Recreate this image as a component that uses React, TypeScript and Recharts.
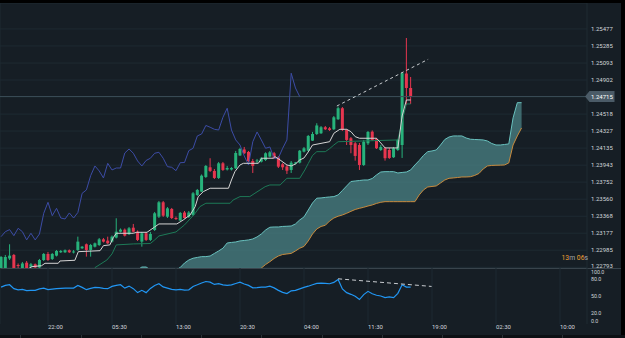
import React from 'react';
import {
  ComposedChart,
  Bar,
  Line,
  Area,
  XAxis,
  YAxis,
  CartesianGrid,
  ReferenceLine,
} from 'recharts';

// ---- palette ----
const BG = '#161e25';
const GRID = '#1e2a32';
const UP = '#27b27b';
const DOWN = '#e6364f';
const TEXT = '#d2d6da';

// ---- 30-minute candles, first bar index is -1 ----
const FIRST = -1;
const OPEN = [
  1.22763, 1.22774, 1.22892, 1.22932, 1.22819, 1.2278, 1.22845, 1.228, 1.22827, 1.22791,
  1.22875, 1.22943, 1.22887, 1.22924, 1.22962, 1.22962, 1.22985, 1.2296, 1.22988, 1.23007,
  1.23052, 1.22988, 1.23025, 1.23044, 1.23108, 1.23093, 1.23082, 1.23127, 1.23194, 1.23217,
  1.23165, 1.23239, 1.23194, 1.23082, 1.23176, 1.23101, 1.23213, 1.23363, 1.23525, 1.23363,
  1.2345, 1.23348, 1.2332, 1.2341, 1.2336, 1.23382, 1.23607, 1.23645, 1.2381, 1.23919,
  1.23878, 1.23799, 1.23964, 1.23894, 1.23894, 1.23908, 1.24052, 1.2412, 1.24092, 1.2399,
  1.23985, 1.23982, 1.24001, 1.24039, 1.24077, 1.2403, 1.23953, 1.23928, 1.23889, 1.23962,
  1.23971, 1.24095, 1.24106, 1.24219, 1.24294, 1.24302, 1.2437, 1.24358, 1.24347, 1.2446,
  1.24584, 1.24339, 1.24246, 1.24189, 1.2417, 1.23945, 1.24189, 1.2432, 1.24235, 1.24114,
  1.24133, 1.24114, 1.24032, 1.24114, 1.2417, 1.24975, 1.24812,
];
const HIGH = [
  1.2292, 1.22932, 1.23052, 1.22943, 1.22836, 1.22853, 1.22864, 1.22842, 1.22836, 1.22887,
  1.22954, 1.22966, 1.22954, 1.22988, 1.22988, 1.22994, 1.22994, 1.22988, 1.23138, 1.23033,
  1.23061, 1.23056, 1.23072, 1.23123, 1.23123, 1.23138, 1.23151, 1.23345, 1.2323, 1.2323,
  1.23247, 1.23281, 1.23208, 1.23191, 1.23191, 1.23191, 1.23416, 1.2354, 1.2354, 1.23472,
  1.23461, 1.23365, 1.23416, 1.23427, 1.23427, 1.23641, 1.23675, 1.23838, 1.23945, 1.24021,
  1.239, 1.23979, 1.23979, 1.23934, 1.23923, 1.24103, 1.24138, 1.24148, 1.24103, 1.24013,
  1.24013, 1.24035, 1.24088, 1.24103, 1.24092, 1.24046, 1.23968, 1.23945, 1.2399, 1.23979,
  1.24114, 1.24148, 1.24283, 1.24317, 1.24415, 1.24384, 1.24384, 1.24373, 1.24497, 1.24602,
  1.24598, 1.2435, 1.2426, 1.24204, 1.24193, 1.24227, 1.24328, 1.24334, 1.24249, 1.2417,
  1.24148, 1.24137, 1.24148, 1.24238, 1.24992, 1.25375, 1.24936,
];
const LOW = [
  1.22752, 1.22763, 1.22875, 1.2274, 1.22785, 1.22768, 1.22774, 1.22785, 1.22774, 1.22774,
  1.22864, 1.22864, 1.22875, 1.22915, 1.22954, 1.22954, 1.22954, 1.22949, 1.22977, 1.22999,
  1.22913, 1.22913, 1.23016, 1.23033, 1.23072, 1.23056, 1.23072, 1.23118, 1.23185, 1.2314,
  1.23157, 1.23185, 1.23089, 1.23025, 1.23089, 1.23089, 1.23202, 1.23348, 1.2336, 1.23348,
  1.23337, 1.23326, 1.23315, 1.23342, 1.23348, 1.23371, 1.23596, 1.23641, 1.23799, 1.23866,
  1.23787, 1.23787, 1.23878, 1.23883, 1.23883, 1.239, 1.24046, 1.24069, 1.23979, 1.23855,
  1.23968, 1.23973, 1.2399, 1.2403, 1.24013, 1.23911, 1.23889, 1.23844, 1.23855, 1.23951,
  1.23962, 1.24086, 1.24097, 1.24215, 1.24283, 1.24294, 1.24339, 1.24328, 1.24339, 1.24452,
  1.24328, 1.2417, 1.24077, 1.23994, 1.23889, 1.23934, 1.2417, 1.24215, 1.24125, 1.24103,
  1.23994, 1.24013, 1.24024, 1.24103, 1.24024, 1.24621, 1.24632,
];
const CLOSE = [
  1.22909, 1.22909, 1.22924, 1.22763, 1.22808, 1.22836, 1.22785, 1.22827, 1.22791, 1.22875,
  1.22943, 1.22875, 1.22943, 1.22977, 1.22977, 1.22985, 1.22962, 1.22971, 1.23082, 1.23025,
  1.22988, 1.23044, 1.23063, 1.23108, 1.23082, 1.23063, 1.23138, 1.23194, 1.23217, 1.23149,
  1.23232, 1.23194, 1.23101, 1.23176, 1.23101, 1.23168, 1.23401, 1.23525, 1.23374, 1.23457,
  1.23348, 1.23337, 1.23405, 1.23348, 1.2341, 1.23626, 1.23664, 1.23825, 1.23934, 1.23878,
  1.23799, 1.23964, 1.23889, 1.23911, 1.23911, 1.2408, 1.24125, 1.24077, 1.2399, 1.23934,
  1.23996, 1.24021, 1.24077, 1.24088, 1.24021, 1.23926, 1.23919, 1.23881, 1.23971, 1.23973,
  1.24106, 1.24133, 1.24272, 1.24294, 1.2439, 1.2437, 1.24347, 1.24339, 1.24482, 1.24584,
  1.24339, 1.24227, 1.2417, 1.24047, 1.23945, 1.24207, 1.24317, 1.24227, 1.24133, 1.24148,
  1.24021, 1.24024, 1.24133, 1.24227, 1.24978, 1.24812, 1.24715,
];

// ---- Ichimoku lines: [bar index, price] vertices ----
const TENKAN: [number, number][] = [
  [5.5, 1.2278], [6.2, 1.228], [8.5, 1.22811], [9.3, 1.22838], [12.4, 1.22838], [12.8, 1.22864],
  [16.3, 1.22872], [17.1, 1.22969], [22.2, 1.2298], [23, 1.23037], [24.5, 1.23045], [25.3, 1.23127],
  [26, 1.23176], [30, 1.23176], [30.8, 1.23187], [33.2, 1.23187], [35, 1.23247], [36, 1.23281],
  [40.2, 1.23281], [41.7, 1.23326], [43.3, 1.23382], [44.5, 1.23476], [45.2, 1.23588], [46.4, 1.23645],
  [48, 1.23683], [52.3, 1.23683], [53, 1.23776], [53.8, 1.2387], [55, 1.23945], [55.8, 1.23964],
  [59.3, 1.23964], [60.1, 1.24021], [62.8, 1.24021], [63.2, 1.24039], [64.4, 1.24001], [66, 1.23945],
  [67, 1.23934], [68, 1.23956], [69, 1.24001], [70, 1.24024], [71, 1.24092], [72, 1.2417],
  [76, 1.24207], [77, 1.24302], [78.4, 1.24347], [80, 1.24347], [81, 1.2432], [82, 1.24264],
  [83, 1.24246], [87, 1.24246], [88, 1.24193], [89, 1.24137], [92, 1.24137], [93, 1.24497],
  [94, 1.24677], [95, 1.24677],
];
const KIJUN: [number, number][] = [
  [20.5, 1.22763], [21, 1.22789], [23.8, 1.22875], [25, 1.22943], [26, 1.23045], [30, 1.23056],
  [34, 1.23061], [35, 1.23101], [36, 1.23146], [40, 1.23191], [42, 1.2327], [43.5, 1.23348],
  [44.5, 1.23401], [45.6, 1.23476], [47, 1.23514], [52.7, 1.23514], [53.4, 1.23551], [55, 1.23589],
  [57.3, 1.23589], [58.5, 1.23627], [59.7, 1.23664], [60.9, 1.23701], [62, 1.2372], [64.4, 1.2372],
  [66, 1.23795], [69, 1.23795], [70.2, 1.23889], [71, 1.23962], [72, 1.24052], [73, 1.24095],
  [75, 1.24095], [76, 1.24129], [77, 1.2417], [78, 1.24207], [92, 1.24227], [93, 1.24441],
  [94, 1.24632], [95, 1.24632],
];
// lagging span, starting at bar index -1
const CHIKOU = [
  1.23138, 1.23194, 1.23217, 1.23149, 1.23232, 1.23194, 1.23101, 1.23176, 1.23101, 1.23168,
  1.23401, 1.23525, 1.23374, 1.23457, 1.23348, 1.23337, 1.23405, 1.23348, 1.2341, 1.23626,
  1.23664, 1.23825, 1.23934, 1.23878, 1.23799, 1.23964, 1.23889, 1.23911, 1.23911, 1.2408,
  1.24125, 1.24077, 1.2399, 1.23934, 1.23996, 1.24021, 1.24077, 1.24088, 1.24021, 1.23926,
  1.23919, 1.23881, 1.23971, 1.23973, 1.24106, 1.24133, 1.24272, 1.24294, 1.2439, 1.2437,
  1.24347, 1.24339, 1.24482, 1.24584, 1.24339, 1.24227, 1.2417, 1.24047, 1.23945, 1.24207,
  1.24317, 1.24227, 1.24133, 1.24148, 1.24021, 1.24024, 1.24133, 1.24227, 1.24978, 1.24812,
  1.24715,
];
// leading spans, starting at bar index 30
const SPAN_FIRST = 30;
const SENKOU_A = [
  1.22707, 1.22763, 1.22796, 1.22796, 1.22763, 1.22718, 1.22707, 1.22707, 1.22707, 1.22729,
  1.22763, 1.22791, 1.22841, 1.22875, 1.22895, 1.22904, 1.22913, 1.22913, 1.2292, 1.22949,
  1.22977, 1.23008, 1.23067, 1.23073, 1.23078, 1.2309, 1.23095, 1.23101, 1.23112, 1.23135,
  1.23168, 1.23213, 1.23244, 1.23247, 1.23247, 1.23253, 1.23255, 1.23258, 1.23281, 1.23326,
  1.2336, 1.23438, 1.23517, 1.23571, 1.23574, 1.2358, 1.23585, 1.23589, 1.23608, 1.23658,
  1.23709, 1.23759, 1.23765, 1.2377, 1.23776, 1.23776, 1.23793, 1.23833, 1.23866, 1.2387,
  1.2387, 1.2387, 1.23855, 1.23861, 1.23866, 1.23889, 1.23945, 1.23995, 1.24052, 1.24095,
  1.24103, 1.24114, 1.2417, 1.24232, 1.2426, 1.24272, 1.24272, 1.24272, 1.24249, 1.24235,
  1.24232, 1.2423, 1.24227, 1.24215, 1.24187, 1.2417, 1.2417, 1.24176, 1.24182, 1.24475,
  1.24647, 1.24647,
];
const SENKOU_B = [
  1.2265, 1.2265, 1.2265, 1.2265, 1.2265, 1.2265, 1.2265, 1.2265, 1.2265, 1.2265,
  1.2265, 1.2265, 1.2265, 1.2265, 1.2265, 1.2265, 1.2265, 1.2265, 1.2265, 1.2265,
  1.2265, 1.2265, 1.2265, 1.2265, 1.2265, 1.2265, 1.2265, 1.2265, 1.2265, 1.2274,
  1.22785, 1.22824, 1.22856, 1.22892, 1.2292, 1.22937, 1.22943, 1.22949, 1.22977, 1.23008,
  1.23028, 1.2309, 1.23168, 1.23224, 1.23253, 1.23266, 1.23314, 1.23348, 1.23368, 1.23382,
  1.23401, 1.23423, 1.23444, 1.23457, 1.23469, 1.23483, 1.23495, 1.23512, 1.23525, 1.23532,
  1.23532, 1.23532, 1.23532, 1.23532, 1.23532, 1.23532, 1.23532, 1.23607, 1.23664, 1.23697,
  1.23703, 1.23709, 1.23742, 1.23776, 1.23795, 1.23799, 1.23804, 1.2381, 1.2381, 1.23813,
  1.23827, 1.23849, 1.239, 1.23934, 1.2394, 1.23942, 1.23943, 1.23945, 1.23968, 1.2417,
  1.24272, 1.24362,
];

// ---- RSI(14), starting at bar index -1 ----
const RSI = [
  65.9, 68.9, 70.1, 63.1, 61.0, 61.8, 59.5, 60.1, 60.1, 62.7,
  64.1, 61.3, 62.2, 63.1, 63.6, 64.1, 64.1, 64.1, 68.9, 65.4,
  61.3, 63.6, 65.4, 64.8, 63.6, 63.1, 67.1, 68.9, 70.1, 64.1,
  67.7, 63.1, 56.0, 60.1, 56.0, 63.6, 68.9, 71.9, 66.2, 64.1,
  61.8, 61.0, 61.8, 60.6, 61.0, 67.1, 70.1, 73.3, 75.9, 74.7,
  70.7, 71.9, 69.8, 68.9, 69.8, 72.4, 74.7, 71.5, 68.9, 64.5,
  64.8, 65.9, 65.9, 67.7, 64.5, 60.1, 56.5, 54.3, 59.2, 60.1,
  62.7, 65.4, 67.5, 70.1, 72.4, 72.9, 72.4, 71.9, 74.2, 79.5,
  62.7, 56.0, 53.0, 49.5, 43.7, 52.5, 58.3, 53.9, 51.3, 50.0,
  47.2, 48.3, 47.2, 54.8, 70.1, 65.9, 65.9,
];

// ---- drawn trend lines: [bar index, value] ----
const TREND_PRICE: [number, number][] = [[77.7, 1.24609], [99.1, 1.25135]];
const TREND_RSI: [number, number][] = [[78, 80.7], [99.9, 67.1]];

// ---- axes ----
const PRICE_TICKS = [
  1.22793, 1.22985, 1.23177, 1.23368, 1.2356, 1.23752, 1.23943, 1.24135, 1.24327, 1.24518,
  1.24715, 1.24902, 1.25093, 1.25285, 1.25477,
];
const LAST_PRICE = 1.24715;
const PRICE_DOMAIN: [number, number] = [1.22785, 1.25769];
const TIME_TICKS = [10, 25, 40, 55, 70, 85, 100, 115, 130];
const TIME_LABELS = ['22:00', '05:30', '13:00', '20:30', '04:00', '11:30', '19:00', '02:30', '10:00'];
const RSI_TICKS = [0, 20, 50, 80, 100];
const X_DOMAIN: [number, number] = [-1.25, 136.33];

// ---- chart tables built from the arrays above ----
const LAST_INDEX = SPAN_FIRST + SENKOU_A.length - 1;
const rows: any[] = [];
for (let i = FIRST; i <= LAST_INDEX; i++) {
  const row: any = { i };
  const k = i - FIRST;
  if (k < OPEN.length) {
    row.o = OPEN[k];
    row.h = HIGH[k];
    row.l = LOW[k];
    row.c = CLOSE[k];
  }
  const s = i - SPAN_FIRST;
  if (s >= 0 && s < SENKOU_A.length) {
    row.a = SENKOU_A[s];
    row.b = SENKOU_B[s];
    row.cloud = [SENKOU_B[s], SENKOU_A[s]];
  }
  rows.push(row);
}
const toPoints = (pairs: [number, number][]) => pairs.map(([i, v]) => ({ i, v }));
const tenkanData = toPoints(TENKAN);
const kijunData = toPoints(KIJUN);
const chikouData = CHIKOU.map((v, k) => ({ i: FIRST + k, v }));
const rsiData = RSI.map((v, k) => ({ i: FIRST + k, v }));
const trendPriceData = toPoints(TREND_PRICE);
const trendRsiData = toPoints(TREND_RSI);

const FONT = 'Roboto, "DejaVu Sans", sans-serif';

function Candle(props: any) {
  const { x, y, width, height, payload } = props;
  if (!payload || payload.h == null || !isFinite(y) || !isFinite(height)) return null;
  const top = Math.min(y, y + height);
  const bottom = Math.max(y, y + height);
  const span = payload.h - payload.l;
  const toPx = (p: number) => (span > 0 ? top + ((payload.h - p) / span) * (bottom - top) : top);
  const up = payload.c >= payload.o;
  const color = up ? UP : DOWN;
  const cx = x + width / 2;
  const yo = toPx(payload.o);
  const yc = toPx(payload.c);
  const bodyTop = Math.min(yo, yc);
  const bodyH = Math.max(1, Math.abs(yo - yc));
  return (
    <g>
      <line x1={cx} x2={cx} y1={top} y2={bottom} stroke={color} strokeWidth={1} />
      <rect x={cx - 1.5} y={bodyTop} width={3} height={bodyH} fill={color} />
    </g>
  );
}

function PriceTick(props: any) {
  const { x, y, payload } = props;
  const v = payload.value;
  const label = Number(v).toFixed(5);
  if (v === LAST_PRICE) {
    return (
      <g>
        <polygon
          points={`${x - 6},${y} ${x - 1.5},${y - 5.5} ${x + 23.5},${y - 5.5} ${x + 23.5},${y + 5.5} ${x - 1.5},${y + 5.5}`}
          fill="#4b5b67"
        />
        <text x={x} y={y} dy="0.35em" fill="#ffffff" fontSize={6} fontFamily={FONT}>
          {label}
        </text>
      </g>
    );
  }
  const lift = v === PRICE_TICKS[0] ? -1 : 0;
  return (
    <text x={x} y={y + lift} dy="0.35em" fill={TEXT} fontSize={6} fontFamily={FONT}>
      {label}
    </text>
  );
}

function RsiTick(props: any) {
  const { x, y, payload } = props;
  const v = payload.value;
  // keep the end labels inside the pane
  const shift = v === 100 ? 4 : v === 0 ? -3.3 : 0;
  return (
    <text x={x} y={y + shift} dy="0.35em" fill={TEXT} fontSize={5.3} fontFamily={FONT}>
      {Number(v).toFixed(1)}
    </text>
  );
}

function TimeTick(props: any) {
  const { x, payload } = props;
  const idx = TIME_TICKS.indexOf(payload.value);
  return (
    <text x={x} y={59} dy="0.35em" fill={TEXT} fontSize={6} fontFamily={FONT} textAnchor="start">
      {TIME_LABELS[idx]}
    </text>
  );
}

const TOOLBAR_STEPS = [20, 81, 141, 201, 261, 322, 382, 442, 502, 562];

export default function App() {
  return (
    <div
      style={{
        position: 'fixed',
        left: 0,
        top: 0,
        width: 625,
        height: 338,
        background: '#000',
        overflow: 'hidden',
      }}
    >
      <div style={{ position: 'absolute', left: 0, top: 3, width: 621, height: 265, background: BG }}>
        <ComposedChart
          width={621}
          height={265}
          data={rows}
          margin={{ top: 0, right: 0, bottom: 0, left: 0 }}
        >
          <CartesianGrid stroke={GRID} strokeWidth={1} />
          <XAxis
            type="number"
            dataKey="i"
            domain={X_DOMAIN}
            ticks={TIME_TICKS}
            allowDataOverflow
            height={0}
            tick={false}
            axisLine={false}
            tickLine={false}
          />
          <YAxis
            orientation="right"
            width={34}
            domain={PRICE_DOMAIN}
            ticks={PRICE_TICKS}
            allowDataOverflow
            axisLine={false}
            tickLine={false}
            tickSize={0}
            tickMargin={4}
            tick={<PriceTick />}
            interval={0}
          />
          <ReferenceLine y={LAST_PRICE} stroke="#3c4f59" strokeWidth={1} />
          <Area
            dataKey="cloud"
            stroke="none"
            fill="#4b8385"
            fillOpacity={0.75}
            isAnimationActive={false}
            connectNulls={false}
          />
          <Line dataKey="a" stroke="#69c2bf" strokeWidth={1} dot={false} isAnimationActive={false} />
          <Line dataKey="b" stroke="#c98a3d" strokeWidth={1} dot={false} isAnimationActive={false} />
          <Bar
            dataKey={(d: any) => (d.h == null ? null : [d.l, d.h])}
            barSize={3}
            shape={<Candle />}
            isAnimationActive={false}
          />
          <Line data={chikouData} dataKey="v" stroke="#3c4ca6" strokeWidth={1} dot={false} isAnimationActive={false} />
          <Line data={kijunData} dataKey="v" stroke="#1d7a57" strokeWidth={1} dot={false} isAnimationActive={false} />
          <Line data={tenkanData} dataKey="v" stroke="#d4d4d4" strokeWidth={1} dot={false} isAnimationActive={false} />
          <Line
            data={trendPriceData}
            dataKey="v"
            stroke="#c8ccd0"
            strokeWidth={1}
            strokeDasharray="3 3"
            dot={false}
            isAnimationActive={false}
          />
        </ComposedChart>
        <svg
          width={621}
          height={265}
          style={{ position: 'absolute', left: 0, top: 0, pointerEvents: 'none' }}
        >
          <text x={588} y={255} dy="0.35em" textAnchor="end" fontSize={6.8} fontFamily={FONT}>
            <tspan fill="#f0a032">13</tspan>
            <tspan fill="#a3abb2">m </tspan>
            <tspan fill="#f0a032">06</tspan>
            <tspan fill="#a3abb2">s</tspan>
          </text>
        </svg>
      </div>

      <div
        style={{
          position: 'absolute',
          left: 0,
          top: 268,
          width: 621,
          height: 67,
          background: BG,
          borderTop: '1px solid #39444c',
          boxSizing: 'border-box',
        }}
      >
        <div style={{ position: 'absolute', left: 0, top: -1 }}>
          <ComposedChart
            width={621}
            height={70}
            data={rsiData}
            margin={{ top: 0, right: 0, bottom: 0, left: 0 }}
          >
            <CartesianGrid stroke={GRID} strokeWidth={1} horizontal={false} />
            <XAxis
              type="number"
              dataKey="i"
              domain={X_DOMAIN}
              ticks={TIME_TICKS}
              allowDataOverflow
              height={14}
              axisLine={false}
              tickLine={false}
              tick={<TimeTick />}
              interval={0}
            />
            <YAxis
              orientation="right"
              width={34}
              domain={[0, 100]}
              ticks={RSI_TICKS}
              allowDataOverflow
              axisLine={false}
              tickLine={false}
              tickSize={0}
              tickMargin={4}
              tick={<RsiTick />}
              interval={0}
            />
            <Line dataKey="v" stroke="#2196f3" strokeWidth={1.2} dot={false} isAnimationActive={false} />
            <Line
              data={trendRsiData}
              dataKey="v"
              stroke="#c8ccd0"
              strokeWidth={1}
              strokeDasharray="4 3"
              dot={false}
              isAnimationActive={false}
            />
          </ComposedChart>
        </div>
      </div>

      <div
        style={{
          position: 'absolute',
          left: 0,
          top: 335,
          width: 625,
          height: 3,
          background: '#0c1014',
        }}
      >
        {TOOLBAR_STEPS.map((sx) => (
          <div
            key={sx}
            style={{ position: 'absolute', left: sx, top: 0, width: 1, height: 3, background: '#2a3238' }}
          />
        ))}
      </div>
    </div>
  );
}
